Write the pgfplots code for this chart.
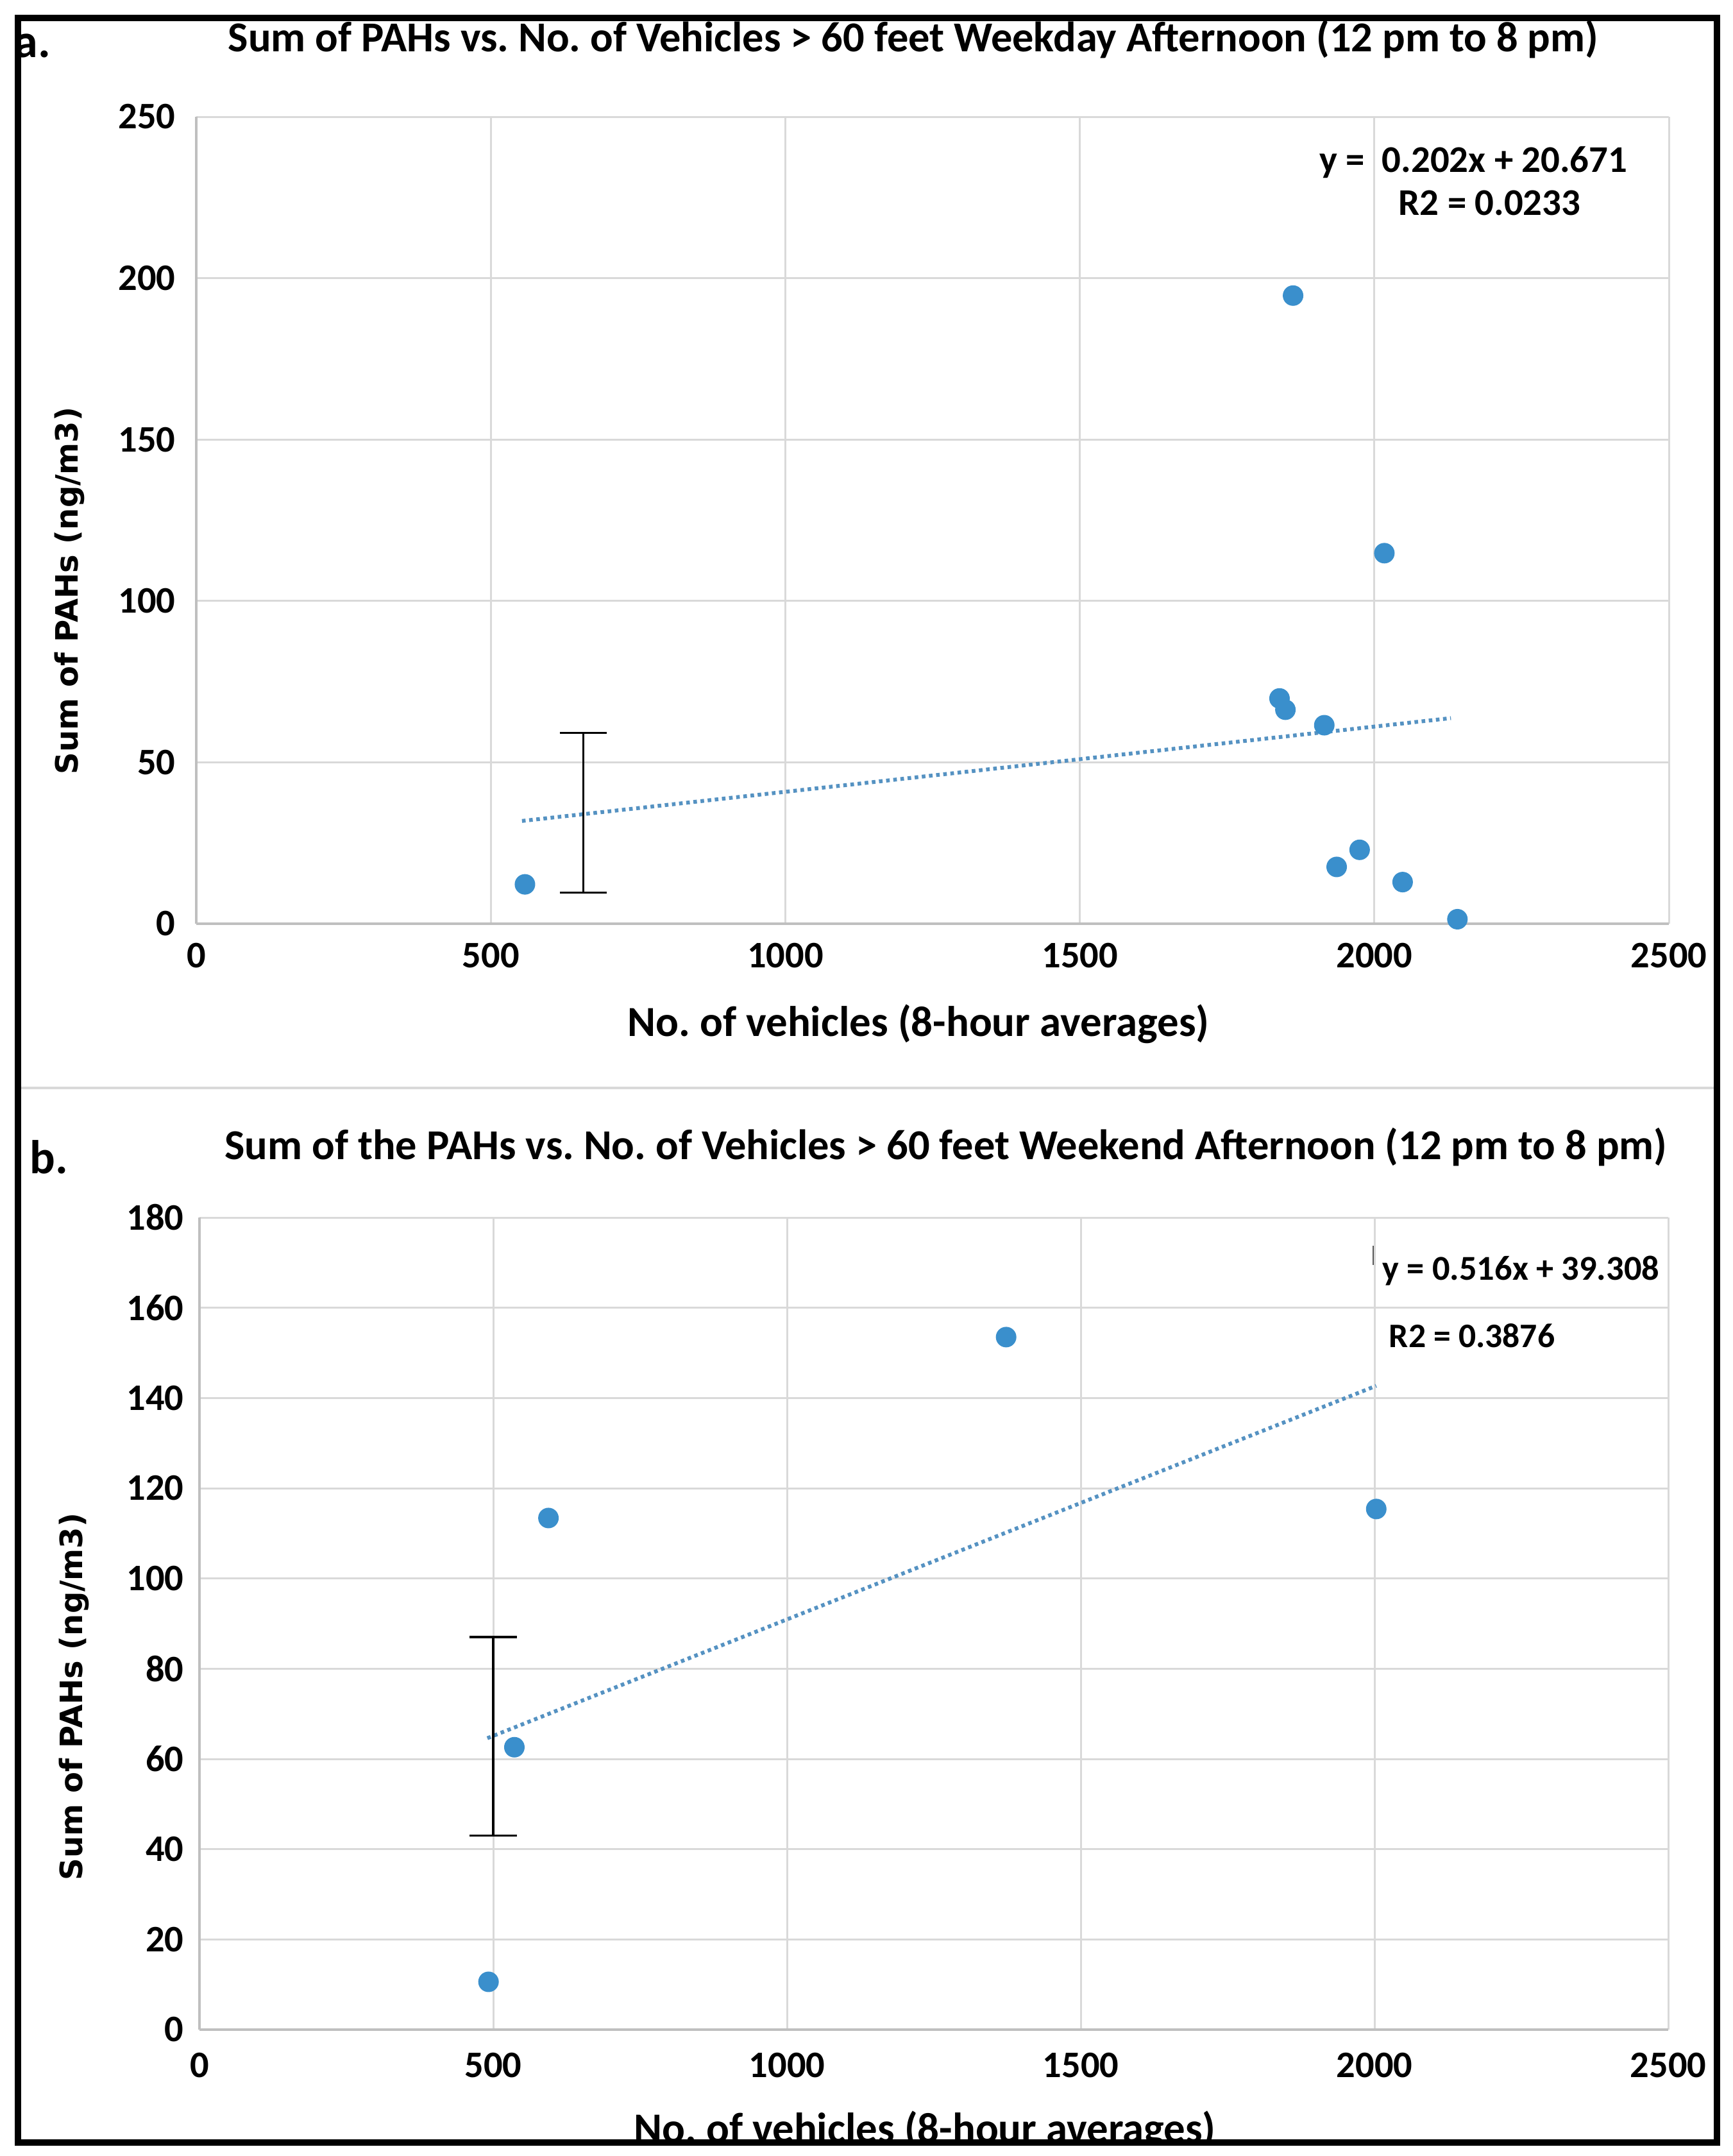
\documentclass[border=0pt]{standalone}
\usepackage{fontspec}
\setmainfont{Carlito}
\newfontfamily\dvs{DejaVu Sans}
\usepackage{pgfplots}
\pgfplotsset{compat=1.18}
\definecolor{ptblue}{HTML}{3A8FCC}
\definecolor{trendblue}{HTML}{5592C2}
\definecolor{gridgray}{HTML}{D9D9D9}
\definecolor{axisgray}{HTML}{BFBFBF}
\newcommand\tickfont{\fontsize{14.6}{17}\selectfont\bfseries}
\newcommand\titlefont{\fontsize{16.6}{19}\selectfont\bfseries}
\newcommand\xlabfont{\fontsize{16.7}{19}\selectfont\bfseries}
\newcommand\ylabfont{\dvs\fontsize{12}{14}\selectfont\bfseries}
\newcommand\panelfont{\fontsize{18.5}{21}\selectfont\bfseries}
\pgfplotsset{
  myax/.style={
    scale only axis,
    xmin=0, xmax=2500,
    xtick={0,500,...,2500},
    grid=major,
    major grid style={draw=gridgray, line width=0.75pt},
    axis x line*=bottom, axis y line*=left,
    axis line style={-, draw=axisgray, line width=1pt},
    major tick length=0pt,
    tick style={draw=none},
    ticklabel style={font=\tickfont, inner sep=0pt},
    xticklabel style={anchor=north},
    yticklabel style={anchor=east},
    /pgf/number format/1000 sep={},
    /pgf/number format/assume math mode=true,
    clip=false,
  },
  pts/.style={only marks, mark=*, mark size=3.8pt, mark options={fill=ptblue, draw=ptblue}},
  trend/.style={draw=trendblue, line width=1.5pt, dash pattern=on 1.4pt off 1.4pt, mark=none},
  ebar/.style={draw=black, line width=0.85pt, mark=none, forget plot},
}
\begin{document}
\frenchspacing
\begin{tikzpicture}
\useasboundingbox (0,0) rectangle (675.25pt,-840.25pt);
\fill[white] (0,0) rectangle (675.25pt,-840.25pt);

% ---------------- panel a ----------------
\begin{axis}[myax, at={(76.5pt,-360pt)}, anchor=south west,
  width=574pt, height=314.5pt,
  ymin=0, ymax=250, ytick={0,50,...,250},
  xticklabel style={yshift=-7.25pt}, yticklabel style={xshift=-8pt}]
\addplot[trend] coordinates {(553,31.84) (2130,63.7)};
\addplot[pts] coordinates {
  (558,12.2) (1862,194.6) (2017,114.8) (1839,69.8) (1849,66.3)
  (1915,61.5) (1936,17.6) (1975,22.9) (2048,12.9) (2141,1.4)};
% error bar (vertical line and caps)
\addplot[ebar] coordinates {(657,9.6) (657,59.1)};
\addplot[ebar] coordinates {(617,59.1) (697,59.1)};
\addplot[ebar] coordinates {(617,9.6) (697,9.6)};
\end{axis}

% ---------------- panel b ----------------
\begin{axis}[myax, at={(77.75pt,-791pt)}, anchor=south west,
  width=572.5pt, height=316.5pt,
  ymin=0, ymax=180, ytick={0,20,...,180},
  xticklabel style={yshift=-8.75pt}, yticklabel style={xshift=-6pt}]
\addplot[trend] coordinates {(490,64.6) (2003,142.7)};
\addplot[pts] coordinates {
  (1373,153.5) (594,113.4) (2003,115.4) (536,62.6) (492,10.6)};
\addplot[ebar] coordinates {(500,43) (500,87)};
\addplot[ebar] coordinates {(460,87) (540,87)};
\addplot[ebar] coordinates {(460,43) (540,43)};
\addplot[draw=black!65, line width=0.5pt, mark=none, forget plot] coordinates {(1998,173.7) (1998,169.5)};
\end{axis}

% titles and labels
\node[anchor=base, font=\titlefont, inner sep=0pt] at (356pt,-20.25pt)
  {Sum of PAHs vs. No. of Vehicles > 60 feet Weekday Afternoon (12 pm to 8 pm)};
\node[anchor=base, font=\titlefont, inner sep=0pt] at (368.75pt,-451.75pt)
  {Sum of the PAHs vs. No. of Vehicles > 60 feet Weekend Afternoon (12 pm to 8 pm)};
\node[anchor=base west, font=\panelfont, inner sep=0pt] at (5.5pt,-22.5pt) {a.};
\node[anchor=base west, font=\panelfont, inner sep=0pt] at (11.5pt,-457.25pt) {b.};

\node[anchor=base, font=\xlabfont, inner sep=0pt] at (358pt,-403.75pt) {No. of vehicles (8-hour averages)};
\node[anchor=base, font=\xlabfont, inner sep=0pt] at (360.5pt,-835pt) {No. of vehicles (8-hour averages)};

\node[rotate=90, anchor=base, font=\ylabfont, inner sep=0pt] at (30.4pt,-230.25pt) {Sum of PAHs (ng/m3)};
\node[rotate=90, anchor=base, font=\ylabfont, inner sep=0pt] at (32pt,-661.25pt) {Sum of PAHs (ng/m3)};

\node[anchor=base west, font=\fontsize{14.7}{17}\selectfont\bfseries, inner sep=0pt] at (514.25pt,-67pt) {y =\ \ 0.202x + 20.671};
\node[anchor=base west, font=\fontsize{14.7}{17}\selectfont\bfseries, inner sep=0pt] at (545pt,-83.9pt) {R2 = 0.0233};
\node[anchor=base west, font=\fontsize{13.6}{16}\selectfont\bfseries, inner sep=0pt] at (538.75pt,-498.75pt) {y = 0.516x + 39.308};
\node[anchor=base west, font=\fontsize{13.4}{16}\selectfont\bfseries, inner sep=0pt] at (541.25pt,-525pt) {R2 = 0.3876};

% separator and frame
\draw[draw=gridgray, line width=0.9pt] (8.25pt,-424pt) -- (668pt,-424pt);
\fill[white] (0,-835pt) rectangle (675.25pt,-840.25pt);
\draw[line width=2.5pt] (7pt,-7.125pt) rectangle (669.25pt,-835pt);
\end{tikzpicture}
\end{document}
